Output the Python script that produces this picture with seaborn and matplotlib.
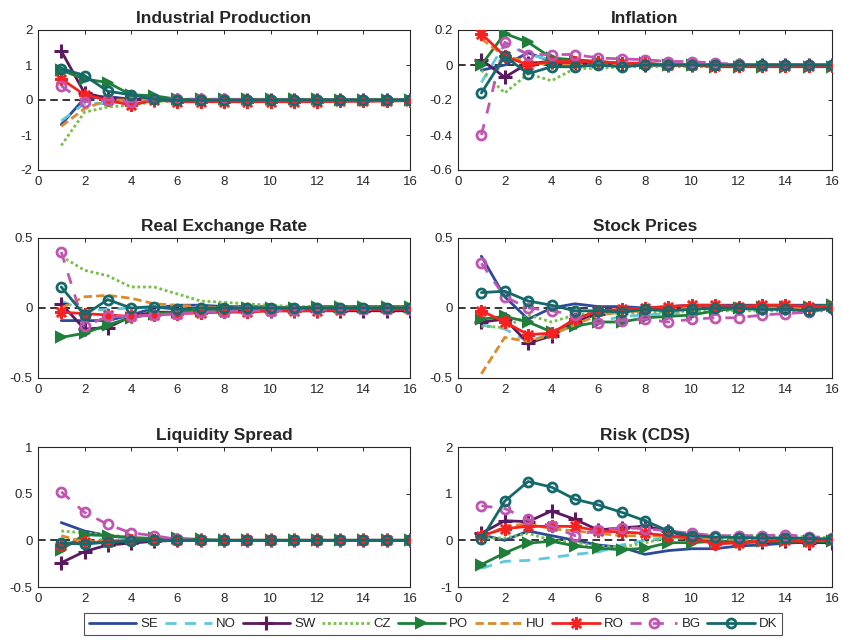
import numpy as np
import pandas as pd
import matplotlib
matplotlib.use("Agg")
import matplotlib.pyplot as plt
from matplotlib.ticker import FormatStrFormatter
import seaborn as sns

horizon = list(range(1, 17))
countries = ["SE", "NO", "SW", "CZ", "PO", "HU", "RO", "BG", "DK"]

industrial_production = {
    "SE": [-0.7, 0.05, 0.1, 0.02, 0.0, 0.0, 0.0, 0.0, 0.0, 0.0, 0.0, 0.0, 0.0, 0.0, 0.0, 0.0],
    "NO": [-0.6, -0.1, -0.1, -0.05, -0.02, 0.0, 0.0, 0.0, 0.0, 0.0, 0.0, 0.0, 0.0, 0.0, 0.0, 0.0],
    "SW": [1.4, 0.2, 0.05, 0.02, 0.0, 0.0, 0.0, 0.0, 0.0, 0.0, 0.0, 0.0, 0.0, 0.0, 0.0, 0.0],
    "CZ": [-1.3, -0.35, -0.2, -0.15, -0.05, -0.02, 0.0, 0.0, 0.0, 0.0, 0.0, 0.0, 0.0, 0.0, 0.0, 0.0],
    "PO": [0.85, 0.6, 0.5, 0.15, 0.12, 0.02, 0.02, 0.02, 0.02, 0.02, 0.02, 0.02, 0.01, 0.01, 0.01, 0.0],
    "HU": [-0.75, -0.25, 0.0, 0.0, 0.0, 0.0, 0.0, 0.0, 0.0, 0.0, 0.0, 0.0, 0.0, 0.0, 0.0, 0.0],
    "RO": [0.6, 0.15, 0.0, -0.15, 0.0, -0.05, -0.05, -0.05, -0.05, -0.05, -0.05, -0.05, -0.04, -0.04, -0.03, -0.02],
    "BG": [0.4, -0.05, 0.0, -0.05, 0.02, 0.03, 0.02, 0.02, 0.01, 0.0, 0.0, 0.0, 0.0, 0.0, 0.0, 0.0],
    "DK": [0.9, 0.7, 0.25, 0.15, 0.02, 0.0, 0.0, 0.0, 0.0, 0.0, 0.0, 0.0, 0.0, 0.0, 0.0, 0.0],
}

inflation = {
    "SE": [-0.03, 0.0, 0.07, 0.02, 0.01, 0.01, 0.0, 0.0, 0.0, 0.0, 0.0, 0.0, 0.0, 0.0, 0.0, 0.0],
    "NO": [-0.1, 0.12, 0.06, 0.03, 0.02, 0.01, 0.01, 0.0, 0.0, 0.0, 0.0, 0.0, 0.0, 0.0, 0.0, 0.0],
    "SW": [0.03, -0.07, 0.01, 0.02, 0.01, 0.01, 0.0, 0.0, 0.0, 0.0, 0.0, 0.0, 0.0, 0.0, 0.0, 0.0],
    "CZ": [-0.03, -0.16, -0.05, -0.09, -0.02, -0.02, -0.01, -0.01, -0.01, -0.01, -0.01, -0.01, -0.005, -0.005, -0.005, 0.0],
    "PO": [0.0, 0.18, 0.13, 0.04, 0.03, 0.02, 0.01, 0.01, 0.0, 0.0, -0.01, -0.01, -0.01, -0.01, -0.01, -0.01],
    "HU": [0.15, 0.05, 0.02, 0.0, 0.0, 0.0, 0.0, 0.0, 0.0, 0.0, 0.0, 0.0, 0.0, 0.0, 0.0, 0.0],
    "RO": [0.18, 0.05, 0.0, 0.02, 0.02, 0.02, 0.01, 0.01, 0.0, 0.0, -0.005, -0.005, -0.005, -0.005, -0.005, -0.005],
    "BG": [-0.4, 0.13, 0.06, 0.06, 0.06, 0.04, 0.035, 0.03, 0.02, 0.02, 0.01, 0.005, 0.0, 0.0, 0.0, 0.0],
    "DK": [-0.16, 0.05, -0.05, -0.01, -0.01, 0.0, -0.01, 0.0, 0.0, 0.0, 0.0, 0.0, 0.0, 0.0, 0.0, 0.0],
}

real_exchange_rate = {
    "SE": [-0.09, -0.09, -0.09, -0.05, 0.0, 0.02, 0.02, 0.01, 0.01, 0.01, 0.0, 0.0, 0.0, 0.0, 0.0, 0.0],
    "NO": [0.05, -0.02, -0.01, 0.0, 0.0, 0.0, 0.0, 0.0, 0.0, 0.0, 0.0, 0.0, 0.0, 0.0, 0.0, 0.0],
    "SW": [0.03, -0.15, -0.14, -0.06, -0.03, -0.03, -0.02, -0.02, -0.02, -0.02, -0.02, -0.02, -0.02, -0.02, -0.02, -0.02],
    "CZ": [0.37, 0.27, 0.23, 0.15, 0.15, 0.1, 0.05, 0.04, 0.03, 0.02, 0.01, 0.01, 0.01, 0.01, 0.01, 0.01],
    "PO": [-0.21, -0.18, -0.12, -0.07, -0.04, -0.03, -0.02, -0.01, 0.0, 0.0, 0.0, 0.01, 0.01, 0.01, 0.01, 0.01],
    "HU": [0.0, 0.08, 0.09, 0.07, 0.03, 0.02, 0.01, 0.0, 0.0, 0.0, 0.0, 0.0, 0.0, 0.0, 0.0, 0.0],
    "RO": [-0.03, -0.04, -0.05, -0.06, -0.05, -0.04, -0.035, -0.03, -0.03, -0.02, -0.02, -0.02, -0.015, -0.01, -0.01, -0.01],
    "BG": [0.4, -0.13, -0.06, -0.06, -0.05, -0.04, -0.03, -0.025, -0.02, -0.02, -0.015, -0.01, -0.01, -0.01, -0.01, -0.01],
    "DK": [0.15, -0.05, 0.06, 0.0, 0.01, -0.01, 0.0, 0.0, 0.0, 0.0, 0.0, 0.0, 0.0, 0.0, 0.0, 0.0],
}

stock_prices = {
    "SE": [0.37, 0.08, -0.08, 0.0, 0.03, 0.01, 0.01, 0.0, 0.01, 0.02, 0.02, 0.02, 0.02, 0.02, 0.02, 0.02],
    "NO": [-0.12, -0.15, -0.24, -0.18, -0.13, -0.1, -0.06, -0.05, -0.04, -0.03, -0.02, -0.01, -0.01, 0.0, 0.0, 0.0],
    "SW": [-0.1, -0.08, -0.25, -0.2, -0.1, -0.04, -0.02, -0.01, 0.0, 0.0, 0.0, 0.0, 0.0, 0.0, 0.0, 0.0],
    "CZ": [-0.13, -0.14, -0.05, -0.1, -0.05, -0.03, -0.04, -0.03, -0.03, -0.02, -0.02, -0.02, -0.02, -0.02, -0.02, -0.02],
    "PO": [-0.08, -0.06, -0.1, -0.17, -0.13, -0.1, -0.1, -0.07, -0.06, -0.05, -0.02, 0.0, 0.01, 0.01, 0.01, 0.02],
    "HU": [-0.47, -0.21, -0.24, -0.19, -0.12, -0.05, -0.03, -0.02, -0.01, 0.0, 0.0, 0.0, 0.0, 0.0, 0.0, 0.0],
    "RO": [-0.02, -0.1, -0.19, -0.18, -0.08, -0.02, -0.01, 0.0, 0.01, 0.02, 0.02, 0.01, 0.02, 0.02, 0.01, 0.01],
    "BG": [0.32, 0.08, 0.0, -0.02, -0.05, -0.11, -0.09, -0.08, -0.1, -0.08, -0.07, -0.07, -0.05, -0.04, -0.03, 0.0],
    "DK": [0.11, 0.12, 0.05, 0.02, -0.02, -0.02, -0.03, -0.01, -0.02, -0.01, 0.0, 0.0, -0.01, -0.01, -0.02, 0.0],
}

liquidity_spread = {
    "SE": [0.19, 0.1, 0.05, 0.02, 0.01, 0.0, 0.0, 0.0, 0.0, 0.0, 0.0, 0.0, 0.0, 0.0, 0.0, 0.0],
    "NO": [-0.03, -0.01, 0.02, 0.01, 0.0, 0.0, 0.0, 0.0, 0.0, 0.0, 0.0, 0.0, 0.0, 0.0, 0.0, 0.0],
    "SW": [-0.24, -0.12, -0.05, -0.03, -0.01, 0.0, 0.0, 0.0, 0.0, 0.0, 0.0, 0.0, 0.0, 0.0, 0.0, 0.0],
    "CZ": [0.1, 0.08, 0.06, 0.03, 0.01, 0.0, 0.0, 0.0, 0.0, 0.0, 0.0, 0.0, 0.0, 0.0, 0.0, 0.0],
    "PO": [-0.1, 0.06, 0.05, 0.03, 0.02, 0.02, 0.01, 0.0, 0.0, 0.0, 0.0, 0.0, 0.0, 0.0, 0.0, 0.0],
    "HU": [0.05, -0.02, 0.0, 0.0, 0.0, 0.0, 0.0, 0.0, 0.0, 0.0, 0.0, 0.0, 0.0, 0.0, 0.0, 0.0],
    "RO": [-0.05, -0.02, -0.02, 0.0, 0.0, 0.0, 0.0, 0.0, 0.0, 0.0, 0.0, 0.0, 0.0, 0.0, 0.0, 0.0],
    "BG": [0.52, 0.3, 0.17, 0.08, 0.05, 0.01, 0.0, 0.0, 0.0, 0.0, 0.0, 0.0, 0.0, 0.0, 0.0, 0.0],
    "DK": [-0.03, -0.04, -0.02, -0.01, 0.0, 0.0, 0.0, 0.0, 0.0, 0.0, 0.0, 0.0, 0.0, 0.0, 0.0, 0.0],
}

risk_cds = {
    "SE": [0.12, 0.0, 0.2, 0.1, 0.0, -0.1, -0.15, -0.3, -0.22, -0.18, -0.18, -0.12, -0.1, -0.06, -0.04, -0.03],
    "NO": [-0.6, -0.45, -0.43, -0.37, -0.3, -0.25, -0.1, 0.0, 0.05, 0.05, 0.05, 0.05, 0.05, 0.05, 0.05, 0.05],
    "SW": [0.15, 0.42, 0.4, 0.63, 0.45, 0.22, 0.27, 0.3, 0.2, 0.05, -0.05, -0.05, -0.03, -0.02, -0.05, -0.05],
    "CZ": [0.05, 0.05, 0.15, 0.0, -0.05, -0.12, -0.15, -0.05, 0.05, 0.08, 0.1, 0.1, 0.1, 0.08, 0.08, 0.05],
    "PO": [-0.52, -0.27, -0.06, -0.02, -0.12, -0.17, -0.2, -0.17, -0.05, -0.05, -0.02, -0.02, -0.02, -0.02, -0.02, -0.02],
    "HU": [0.05, 0.3, 0.35, 0.25, 0.2, 0.15, 0.1, 0.1, 0.08, 0.05, 0.03, 0.02, 0.01, 0.0, 0.0, 0.0],
    "RO": [0.1, 0.25, 0.3, 0.3, 0.3, 0.2, 0.18, 0.15, 0.1, 0.05, -0.08, -0.05, -0.02, 0.0, -0.03, 0.03],
    "BG": [0.74, 0.68, 0.45, 0.3, 0.1, 0.22, 0.27, 0.25, 0.2, 0.15, 0.1, 0.1, 0.1, 0.12, 0.08, 0.05],
    "DK": [0.02, 0.84, 1.26, 1.14, 0.88, 0.76, 0.6, 0.42, 0.2, 0.1, 0.07, 0.06, 0.05, 0.05, 0.04, 0.03],
}

panels = [
    ("Industrial Production", industrial_production, (-2, 2), [-2, -1, 0, 1, 2]),
    ("Inflation", inflation, (-0.6, 0.2), [-0.6, -0.4, -0.2, 0, 0.2]),
    ("Real Exchange Rate", real_exchange_rate, (-0.5, 0.5), [-0.5, 0, 0.5]),
    ("Stock Prices", stock_prices, (-0.5, 0.5), [-0.5, 0, 0.5]),
    ("Liquidity Spread", liquidity_spread, (-0.5, 1), [-0.5, 0, 0.5, 1]),
    ("Risk (CDS)", risk_cds, (-1, 2), [-1, 0, 1, 2]),
]

colors = {
    "SE": "#2b4a9c", "NO": "#5fc8dc", "SW": "#5a1a5e", "CZ": "#74c046", "PO": "#1f7f3a",
    "HU": "#dc8a2c", "RO": "#f52222", "BG": "#c056b2", "DK": "#16696a",
}

# per-series line/marker appearance (applied to the Line2D seaborn creates)
asterisk = (8, 2, 0)
styles = {
    "SE": dict(linestyle="-", marker="None"),
    "NO": dict(linestyle=(0, (4, 3)), marker="None"),
    "SW": dict(linestyle="-", marker="+", markersize=10, markeredgewidth=2.2),
    "CZ": dict(linestyle=(0, (1, 1)), marker="None"),
    "PO": dict(linestyle="-", marker=">", markersize=6.5, markeredgewidth=1.5),
    "HU": dict(linestyle=(0, (3, 1.5)), marker="None"),
    "RO": dict(linestyle="-", marker=asterisk, markersize=9, markeredgewidth=1.8),
    "BG": dict(linestyle=(0, (4, 4)), marker="o", markersize=6.5,
               markerfacecolor="none", markeredgewidth=2),
    "DK": dict(linestyle="-", marker="o", markersize=6.5,
               markerfacecolor="none", markeredgewidth=2),
}

sns.set_theme(style="white")
plt.rcParams["font.family"] = ["Liberation Sans", "DejaVu Sans"]
plt.rcParams["axes.unicode_minus"] = False

fig = plt.figure(figsize=(8.42, 6.4), dpi=100)

col_left = [38 / 842, 458 / 842]
col_width = [372 / 842, 374 / 842]
row_bottom = [1 - 170 / 640, 1 - 378 / 640, 1 - 587 / 640]
row_height = 140 / 640

axes = []
legend_lines = []
for i, (title, table, ylim, yticks) in enumerate(panels):
    r, c = divmod(i, 2)
    ax = fig.add_axes([col_left[c], row_bottom[r], col_width[c], row_height])
    axes.append(ax)
    ax.axhline(0, color="black", linestyle=(0, (5, 3)), linewidth=1.1, zorder=1)
    for name in countries:
        frame = pd.DataFrame({"h": horizon, "v": table[name]})
        sns.lineplot(data=frame, x="h", y="v", ax=ax, errorbar=None,
                     color=colors[name], linewidth=2.0, legend=False)
        line = ax.lines[-1]
        line.set(**styles[name])
        line.set_markeredgecolor(colors[name])
        if styles[name].get("markerfacecolor") != "none":
            line.set_markerfacecolor(colors[name])
        line.set_zorder(3)
        line.set_label(name)
        if i == 0:
            legend_lines.append(line)
    ax.set_xlim(0, 16)
    ax.set_ylim(*ylim)
    ax.set_xticks(range(0, 17, 2))
    ax.set_yticks(yticks)
    ax.yaxis.set_major_formatter(FormatStrFormatter("%g"))
    ax.set_xlabel("")
    ax.set_ylabel("")
    ax.set_title(title, fontsize=12.5, fontweight="bold", pad=5)
    ax.tick_params(direction="in", length=3, width=0.7, top=True, right=True,
                   labelsize=9.5, pad=4, colors="#262626")
    for sp in ax.spines.values():
        sp.set_color("#262626")
        sp.set_linewidth(0.8)

leg = fig.legend(legend_lines, countries, loc="center",
                 bbox_to_anchor=(433 / 842, 1 - 624 / 640),
                 ncol=9, frameon=True, fontsize=9.5, handlelength=3.6, handletextpad=0.3,
                 columnspacing=0.5, borderpad=0.35, fancybox=False)
leg.get_frame().set_edgecolor("#262626")
leg.get_frame().set_linewidth(0.8)

fig.savefig("out.png", dpi=100)
